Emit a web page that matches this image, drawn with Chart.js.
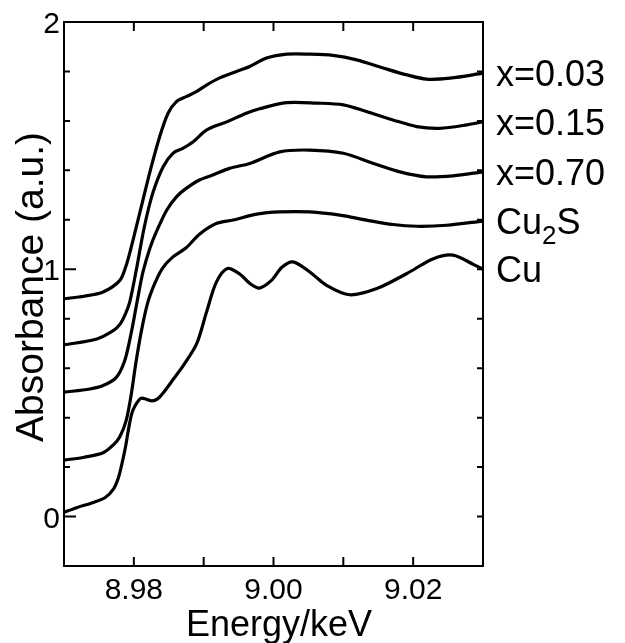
<!DOCTYPE html>
<html>
<head>
<meta charset="utf-8">
<script src="https://cdn.jsdelivr.net/npm/chart.js@4.4.1/dist/chart.umd.min.js"></script>
<style>
    html, body { margin: 0; padding: 0; background: #fff; }
    #wrap { width: 625px; height: 643px; }
</style>
</head>
<body>
<div id="wrap"><canvas id="xanesChart" width="625" height="643"></canvas></div>
<script>
// x=0.03
const x003Energy = [8.9700, 8.9729, 8.9756, 8.9780, 8.9789, 8.9795, 8.9801, 8.9813, 8.9825, 8.9837, 8.9849, 8.9861, 8.9875, 8.9890, 8.9904, 8.9923, 8.9947, 8.9966, 8.9990, 9.0019, 9.0052, 9.0085, 9.0119, 9.0157, 9.0191, 9.0219, 9.0253, 9.0300];
const x003Abs = [0.881, 0.891, 0.908, 0.955, 1.015, 1.075, 1.142, 1.280, 1.415, 1.536, 1.631, 1.678, 1.698, 1.719, 1.745, 1.774, 1.800, 1.820, 1.854, 1.870, 1.870, 1.865, 1.847, 1.814, 1.786, 1.769, 1.773, 1.793];

// x=0.15
const x015Energy = [8.9700, 8.9747, 8.9771, 8.9780, 8.9788, 8.9794, 8.9804, 8.9815, 8.9827, 8.9842, 8.9856, 8.9870, 8.9885, 8.9904, 8.9933, 8.9961, 8.9980, 9.0019, 9.0062, 9.0100, 9.0133, 9.0171, 9.0205, 9.0238, 9.0277, 9.0300];
const x015Abs = [0.694, 0.718, 0.753, 0.777, 0.820, 0.866, 1.004, 1.171, 1.307, 1.415, 1.469, 1.489, 1.516, 1.563, 1.596, 1.631, 1.649, 1.674, 1.672, 1.665, 1.638, 1.604, 1.577, 1.570, 1.584, 1.597];

// x=0.70
const x070Energy = [8.9700, 8.9737, 8.9756, 8.9775, 8.9787, 8.9796, 8.9805, 8.9813, 8.9823, 8.9832, 8.9847, 8.9861, 8.9875, 8.9894, 8.9913, 8.9937, 8.9966, 9.0009, 9.0052, 9.0100, 9.0143, 9.0181, 9.0219, 9.0257, 9.0300];
const x070Abs = [0.503, 0.516, 0.530, 0.563, 0.631, 0.739, 0.874, 0.988, 1.085, 1.150, 1.239, 1.293, 1.327, 1.361, 1.381, 1.408, 1.428, 1.475, 1.482, 1.469, 1.428, 1.394, 1.374, 1.378, 1.394];

// Cu2S
const cu2sEnergy = [8.9700, 8.9729, 8.9756, 8.9771, 8.9780, 8.9789, 8.9796, 8.9803, 8.9811, 8.9820, 8.9830, 8.9841, 8.9856, 8.9875, 8.9894, 8.9918, 8.9942, 8.9976, 9.0009, 9.0052, 9.0095, 9.0133, 9.0171, 9.0205, 9.0248, 9.0300];
const cu2sAbs = [0.228, 0.240, 0.258, 0.291, 0.323, 0.388, 0.489, 0.623, 0.753, 0.866, 0.943, 1.004, 1.050, 1.087, 1.142, 1.185, 1.199, 1.223, 1.232, 1.232, 1.219, 1.199, 1.181, 1.174, 1.178, 1.195];

// Cu foil
const cuEnergy = [8.9700, 8.9718, 8.9742, 8.9759, 8.9771, 8.9778, 8.9783, 8.9788, 8.9792, 8.9797, 8.9802, 8.9810, 8.9818, 8.9826, 8.9834, 8.9842, 8.9857, 8.9871, 8.9890, 8.9904, 8.9918, 8.9934, 8.9952, 8.9966, 8.9980, 8.9997, 9.0012, 9.0028, 9.0052, 9.0076, 9.0109, 9.0148, 9.0191, 9.0229, 9.0257, 9.0286, 9.0300];
const cuAbs = [0.017, 0.036, 0.057, 0.077, 0.112, 0.158, 0.214, 0.280, 0.347, 0.416, 0.449, 0.478, 0.474, 0.468, 0.476, 0.500, 0.557, 0.611, 0.699, 0.826, 0.947, 1.003, 0.980, 0.943, 0.924, 0.955, 1.008, 1.030, 0.989, 0.935, 0.897, 0.922, 0.983, 1.043, 1.057, 1.020, 1.000];

const seriesNames = ["x=0.03", "x=0.15", "x=0.70", "Cu2S", "Cu"];

const xTicks = [8.98, 8.99, 9.00, 9.01, 9.02];
const xTickLabels = ["8.98", "9.00", "9.02"];
const yTicks = [0, 0.2, 0.4, 0.6, 0.8, 1.0, 1.2, 1.4, 1.6, 1.8];
const yTickLabels = ["0", "1", "2"];

function toPoints(xs, ys) {
    return xs.map((x, i) => ({ x: x, y: ys[i] }));
}

document.addEventListener("DOMContentLoaded", function () {
    const ctx = document.getElementById("xanesChart").getContext("2d");
    const font = "'Liberation Sans', Arial, sans-serif";

    // frame with inward ticks, labels and titles
    const framePlugin = {
        id: "frame",
        afterDraw(chart) {
            const c = chart.ctx;
            const a = chart.chartArea;
            const xs = chart.scales.x;
            const ys = chart.scales.y;
            c.save();
            c.strokeStyle = "#000";
            c.fillStyle = "#000";
            c.lineWidth = 2;
            c.strokeRect(a.left, a.top, a.right - a.left, a.bottom - a.top);

            c.beginPath();
            xTicks.forEach((v) => {
                const px = xs.getPixelForValue(v);
                c.moveTo(px, a.bottom);
                c.lineTo(px, a.bottom - 9);
                c.moveTo(px, a.top);
                c.lineTo(px, a.top + 9);
            });
            yTicks.forEach((v) => {
                const py = ys.getPixelForValue(v);
                const major = Math.abs(v - Math.round(v)) < 1e-6;
                c.moveTo(a.left, py);
                c.lineTo(a.left + (major ? 12 : 6), py);
                c.moveTo(a.right, py);
                c.lineTo(a.right - 6, py);
            });
            c.stroke();

            c.font = "30px " + font;
            c.textAlign = "center";
            c.textBaseline = "alphabetic";
            xTickLabels.forEach((t) => {
                c.fillText(t, xs.getPixelForValue(parseFloat(t)), a.bottom + 33);
            });
            c.textAlign = "right";
            yTickLabels.forEach((t) => {
                c.fillText(t, a.left - 4, ys.getPixelForValue(parseFloat(t)) + 11);
            });

            c.font = "36px " + font;
            c.textAlign = "center";
            c.fillText("Energy/keV", 279, 636);

            c.save();
            c.translate(43, 287);
            c.rotate(-Math.PI / 2);
            c.font = "39px " + font;
            c.fillText("Absorbance (a.u.)", 0, 0);
            c.restore();

            // curve names next to the right-hand ends
            c.textAlign = "left";
            chart.data.datasets.forEach((ds, i) => {
                const meta = chart.getDatasetMeta(i);
                const last = meta.data[meta.data.length - 1];
                const base = last.y + 13;
                const lx = a.right + 13;
                c.font = "36px " + font;
                if (ds.label === "Cu2S") {
                    c.fillText("Cu", lx, base);
                    let w = c.measureText("Cu").width;
                    c.font = "26px " + font;
                    c.fillText("2", lx + w, base + 10);
                    w += c.measureText("2").width;
                    c.font = "36px " + font;
                    c.fillText("S", lx + w, base);
                } else {
                    c.fillText(ds.label, lx, base);
                }
            });
            c.restore();
        },
    };

    const series = [
        toPoints(x003Energy, x003Abs),
        toPoints(x015Energy, x015Abs),
        toPoints(x070Energy, x070Abs),
        toPoints(cu2sEnergy, cu2sAbs),
        toPoints(cuEnergy, cuAbs),
    ];

    new Chart(ctx, {
        type: "line",
        data: {
            datasets: series.map((pts, i) => ({
                label: seriesNames[i],
                data: pts,
                borderColor: "#000",
                borderWidth: 3.2,
                pointRadius: 0,
                fill: false,
                tension: 0.3,
                clip: 3,
            })),
        },
        options: {
            responsive: false,
            animation: false,
            layout: { padding: { left: 64, right: 142, top: 22, bottom: 77 } },
            plugins: {
                legend: { display: false },
                tooltip: { enabled: false },
            },
            scales: {
                x: { type: "linear", min: 8.97, max: 9.03, display: false },
                y: { type: "linear", min: -0.2, max: 2.0, display: false },
            },
        },
        plugins: [framePlugin],
    });
});
</script>
</body>
</html>
